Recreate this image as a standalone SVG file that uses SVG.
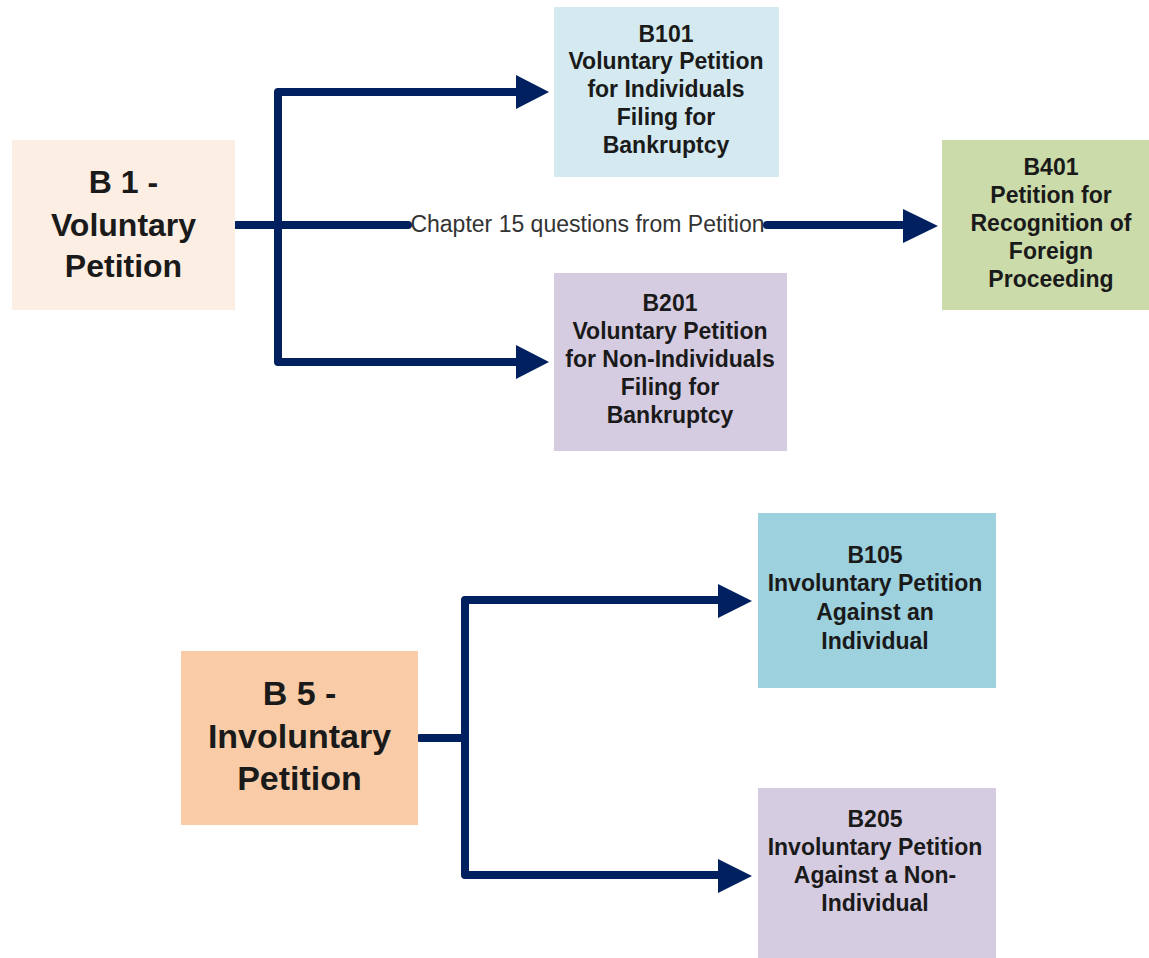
<svg xmlns="http://www.w3.org/2000/svg" width="1149" height="958" viewBox="0 0 1149 958">
<defs>
<style>
.big{font-family:"Liberation Sans",Arial,sans-serif;font-weight:bold;font-size:32px;fill:#1a1a1a;text-anchor:middle}
.sm{font-family:"Liberation Sans",Arial,sans-serif;font-weight:bold;font-size:23px;fill:#1a1a1a;text-anchor:middle}
.lbl{font-family:"Liberation Sans",Arial,sans-serif;font-size:23px;fill:#333;text-anchor:middle}
.ln{fill:none;stroke:#002060;stroke-width:8;stroke-linecap:round;stroke-linejoin:round}
.ah{fill:#002060}
</style>
</defs>
<rect width="1149" height="958" fill="#fff"/>
<g id="connectors">
<path class="ln" d="M236 225 H408"/>
<path class="ln" d="M767 225 H905"/>
<polygon class="ah" points="903,209 938,226 903,243"/>
<path class="ln" d="M520 92 H278 V362 H520"/>
<polygon class="ah" points="516,75 549,92 516,109"/>
<polygon class="ah" points="516,345 549,362 516,379"/>
<text class="lbl" x="587.5" y="232">Chapter 15 questions from Petition</text>
<path class="ln" d="M420 738 H465"/>
<path class="ln" d="M720 600 H465 V875 H720"/>
<polygon class="ah" points="718,584 752,601 718,618"/>
<polygon class="ah" points="718,859 752,876 718,893"/>
</g>
<g id="b1">
<rect x="12" y="140" width="223" height="170" fill="#FDEEE3"/>
<text class="big" x="123.5" y="193">B 1 -</text>
<text class="big" x="123.5" y="236">Voluntary</text>
<text class="big" x="123.5" y="277">Petition</text>
</g>
<g id="b101">
<rect x="554" y="7" width="225" height="170" fill="#D4EAF0"/>
<text class="sm" x="666" y="42">B101</text>
<text class="sm" x="666" y="69">Voluntary Petition</text>
<text class="sm" x="666" y="97">for Individuals</text>
<text class="sm" x="666" y="125">Filing for</text>
<text class="sm" x="666" y="153">Bankruptcy</text>
</g>
<g id="b201">
<rect x="554" y="273" width="233" height="178" fill="#D6CCE1"/>
<text class="sm" x="670" y="311">B201</text>
<text class="sm" x="670" y="339">Voluntary Petition</text>
<text class="sm" x="670" y="367">for Non-Individuals</text>
<text class="sm" x="670" y="395">Filing for</text>
<text class="sm" x="670" y="423">Bankruptcy</text>
</g>
<g id="b401">
<rect x="942" y="140" width="207" height="170" fill="#CCDBAA"/>
<text class="sm" x="1051" y="175">B401</text>
<text class="sm" x="1051" y="203">Petition for</text>
<text class="sm" x="1051" y="231">Recognition of</text>
<text class="sm" x="1051" y="259">Foreign</text>
<text class="sm" x="1051" y="287">Proceeding</text>
</g>
<g id="b5">
<rect x="181" y="651" width="237" height="174" fill="#F9CCA7"/>
<text class="big" x="299.5" y="705" style="font-size:34px">B 5 -</text>
<text class="big" x="299.5" y="748" style="font-size:34px">Involuntary</text>
<text class="big" x="299.5" y="790" style="font-size:34px">Petition</text>
</g>
<g id="b105">
<rect x="758" y="513" width="238" height="175" fill="#9DD1DE"/>
<text class="sm" x="875" y="563">B105</text>
<text class="sm" x="875" y="591">Involuntary Petition</text>
<text class="sm" x="875" y="620">Against an</text>
<text class="sm" x="875" y="649">Individual</text>
</g>
<g id="b205">
<rect x="758" y="788" width="238" height="175" fill="#D6CCE1"/>
<text class="sm" x="875" y="827">B205</text>
<text class="sm" x="875" y="855">Involuntary Petition</text>
<text class="sm" x="875" y="883">Against a Non-</text>
<text class="sm" x="875" y="911">Individual</text>
</g>
</svg>
